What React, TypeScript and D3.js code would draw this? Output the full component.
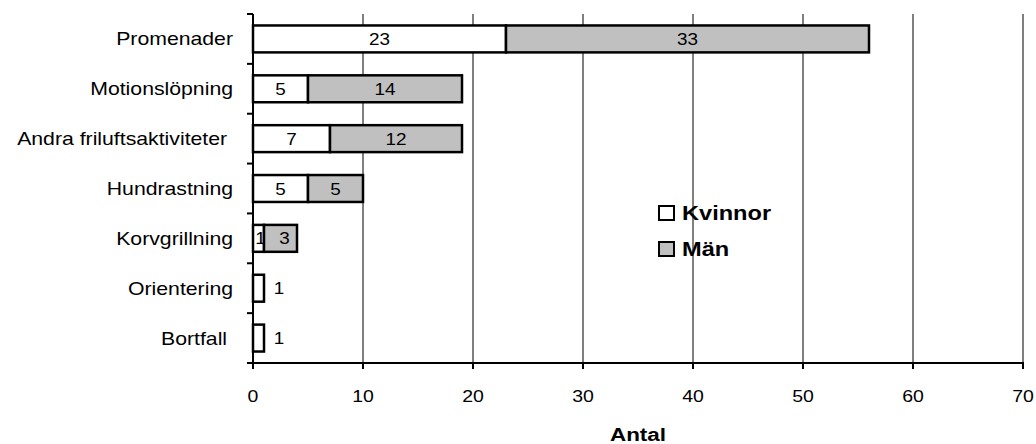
import * as d3 from "d3";
import * as React from "react";

const categories = [
  "Promenader",
  "Motionslöpning",
  "Andra friluftsaktiviteter ",
  "Hundrastning",
  "Korvgrillning",
  "Orientering",
  "Bortfall ",
];
const kvinnor = [23, 5, 7, 5, 1, 1, 1];
const man = [33, 14, 12, 5, 3, 0, 0];
const xTicks = [0, 10, 20, 30, 40, 50, 60, 70];
const seriesNames = ["Kvinnor", "Män"];
const seriesColors = ["#ffffff", "#c0c0c0"];

const font = "Arial, 'Liberation Sans', sans-serif";
const stretch = 1.18; // the picture's text is wider than plain Arial

function Txt(props: {
  x: number;
  y: number;
  size: number;
  anchor?: "start" | "middle" | "end";
  bold?: boolean;
  children: React.ReactNode;
}) {
  return (
    <g transform={`translate(${props.x},${props.y}) scale(${stretch},1)`}>
      <text
        textAnchor={props.anchor ?? "start"}
        fontSize={props.size}
        fontWeight={props.bold ? "bold" : "normal"}
        style={{ whiteSpace: "pre" }}
      >
        {props.children}
      </text>
    </g>
  );
}

export default function App() {
  const width = 1036;
  const height = 444;
  const marginLeft = 253;
  const marginRight = 13;
  const marginTop = 14;
  const marginBottom = 81;

  const x = d3.scaleLinear([0, 70], [marginLeft, width - marginRight]);
  const y = d3
    .scaleBand<string>()
    .domain(categories)
    .range([marginTop, height - marginBottom])
    .paddingInner(0.46)
    .paddingOuter(0.23);

  const bandStep = y.step();
  const rows = categories.map((c, i) => ({ c, k: kvinnor[i], m: man[i] }));

  return (
    <svg
      width={width}
      height={height}
      style={{ position: "absolute", left: 0, top: 0 }}
      fontFamily={font}
    >
      {/* grid */}
      {xTicks.slice(1).map((t) => (
        <line
          key={"g" + t}
          x1={x(t)}
          x2={x(t)}
          y1={marginTop}
          y2={height - marginBottom}
          stroke="#000"
          strokeWidth={1}
        />
      ))}

      {/* bars */}
      {rows.map((r) => {
        const by = y(r.c)!;
        const bh = y.bandwidth();
        const cy = by + bh / 2 + 6;
        return (
          <g key={r.c}>
            <rect
              x={x(0)}
              y={by}
              width={x(r.k) - x(0)}
              height={bh}
              fill={seriesColors[0]}
              stroke="#000"
              strokeWidth={2.5}
            />
            {r.m > 0 && (
              <rect
                x={x(r.k)}
                y={by}
                width={x(r.k + r.m) - x(r.k)}
                height={bh}
                fill={seriesColors[1]}
                stroke="#000"
                strokeWidth={2.5}
              />
            )}
            <Txt
              x={r.m > 0 ? (x(0) + x(r.k)) / 2 + (r.k === 1 ? 2 : 0) : x(r.k) + 15}
              y={cy}
              size={16}
              anchor="middle"
            >
              {r.k}
            </Txt>
            {r.m > 0 && (
              <Txt
                x={(x(r.k) + x(r.k + r.m)) / 2 + (r.m === 3 ? 4 : 0)}
                y={cy}
                size={16}
                anchor="middle"
              >
                {r.m}
              </Txt>
            )}
          </g>
        );
      })}

      {/* y axis */}
      <line
        x1={x(0)}
        x2={x(0)}
        y1={marginTop}
        y2={height - marginBottom + 1}
        stroke="#000"
        strokeWidth={2}
      />
      {d3.range(categories.length + 1).map((i) => {
        const ty = marginTop + i * bandStep;
        return (
          <line
            key={"yt" + i}
            x1={x(0) - 6}
            x2={x(0)}
            y1={ty}
            y2={ty}
            stroke="#000"
            strokeWidth={2}
          />
        );
      })}
      {categories.map((c) => (
        <Txt
          key={"yl" + c}
          x={x(0) - 20}
          y={y(c)! + y.bandwidth() / 2 + 6.5}
          size={18}
          anchor="end"
        >
          {c}
        </Txt>
      ))}

      {/* x axis */}
      <line
        x1={x(0) - 1}
        x2={x(70) + 1}
        y1={height - marginBottom}
        y2={height - marginBottom}
        stroke="#000"
        strokeWidth={2}
      />
      {xTicks.map((t) => (
        <g key={"xt" + t}>
          <line
            x1={x(t)}
            x2={x(t)}
            y1={height - marginBottom}
            y2={height - marginBottom + 6}
            stroke="#000"
            strokeWidth={2}
          />
          <Txt x={x(t)} y={402} size={16.5} anchor="middle">
            {t}
          </Txt>
        </g>
      ))}
      <Txt x={(x(0) + x(70)) / 2} y={441} size={19} anchor="middle" bold>
        Antal
      </Txt>

      {/* legend */}
      {seriesNames.map((n, i) => (
        <g key={n} transform={`translate(659, ${206 + i * 36})`}>
          <rect
            x={0}
            y={0}
            width={15}
            height={14}
            fill={seriesColors[i]}
            stroke="#000"
            strokeWidth={2}
          />
          <Txt x={23} y={14} size={20} bold>
            {n}
          </Txt>
        </g>
      ))}
    </svg>
  );
}
